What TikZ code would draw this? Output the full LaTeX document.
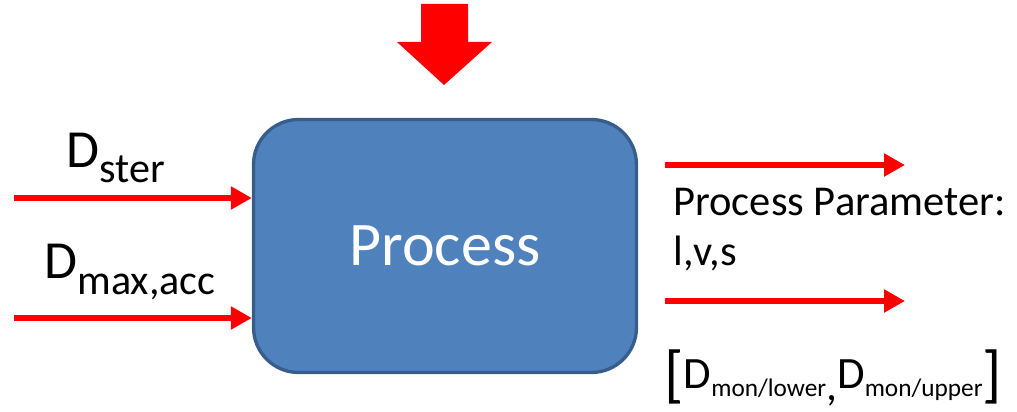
\documentclass[tikz,border=0pt]{standalone}
\usepackage{fontspec}
\setmainfont{Carlito}
\usepackage{tikz}
\usetikzlibrary{arrows.meta, positioning}
\definecolor{procfill}{HTML}{4F81BD}
\definecolor{procline}{HTML}{385D8A}
\definecolor{flowred}{HTML}{FF0000}
\tikzset{
  procbox/.style = {draw=procline, fill=procfill, line width=1.9pt,
                    rounded corners=0.9cm, minimum width=7.66cm,
                    minimum height=5.06cm, inner sep=0pt, text=white,
                    text depth=0pt, font=\fontsize{35.3}{35.3}\selectfont},
  lbl/.style     = {anchor=base west, inner sep=0pt, text=black},
  flow/.style    = {draw=flowred, line width=3.4pt,
                    -{Triangle[length=0.42cm, width=0.44cm]}}
}
% big letter with lowered index
\newcommand{\Dsub}[4]{{\fontsize{#1}{#1}\selectfont D}\raisebox{-#4}{\fontsize{#2}{#2}\selectfont #3}}

\begin{document}
\begin{tikzpicture}[x=0.02cm, y=-0.02cm]
  \useasboundingbox (0,0) rectangle (1017,412);
  \node[procbox] (box) at (445,246) {Process};

  % feed from above
  \fill[flowred] (421,4) -- (468,4) -- (468,42) -- (492,42) -- (444,85)
                 -- (397,42) -- (421,42) -- cycle;

  % inputs
  \coordinate (ster) at (14,198);
  \coordinate (maxacc) at (14,318);
  \draw[flow] (ster)   -- (ster -| box.west);
  \draw[flow] (maxacc) -- (maxacc -| box.west);
  \node[lbl] (dster) at (66,167) {\Dsub{30.5pt}{24pt}{ster}{9pt}};
  \node[lbl] (dmax)  at (44,278) {\Dsub{30.5pt}{24pt}{max,acc}{9.5pt}};

  % outputs
  \coordinate (outa) at (665,165);
  \coordinate (outb) at (905,165);
  \coordinate (outc) at (665,301);
  \coordinate (outd) at (905,301);
  \draw[flow] (outa) -- (outb);
  \draw[flow] (outc) -- (outd);
  \node[lbl] (param) at (673,215) {\fontsize{24.2}{28}\selectfont Process Parameter:};
  \node[lbl] (plist) at (673,265) {\fontsize{24.2}{28}\selectfont l,v,s};
  \node[lbl] (range) at (664,388) {\raisebox{-4pt}{\fontsize{36}{36}\selectfont [}%
    \Dsub{25.5pt}{14.4pt}{mon/lower}{5pt}\raisebox{-7pt}{\fontsize{25}{25}\selectfont ,}%
    \Dsub{25.5pt}{14.4pt}{mon/upper}{5pt}\raisebox{-4pt}{\fontsize{36}{36}\selectfont ]}};
\end{tikzpicture}
\end{document}
